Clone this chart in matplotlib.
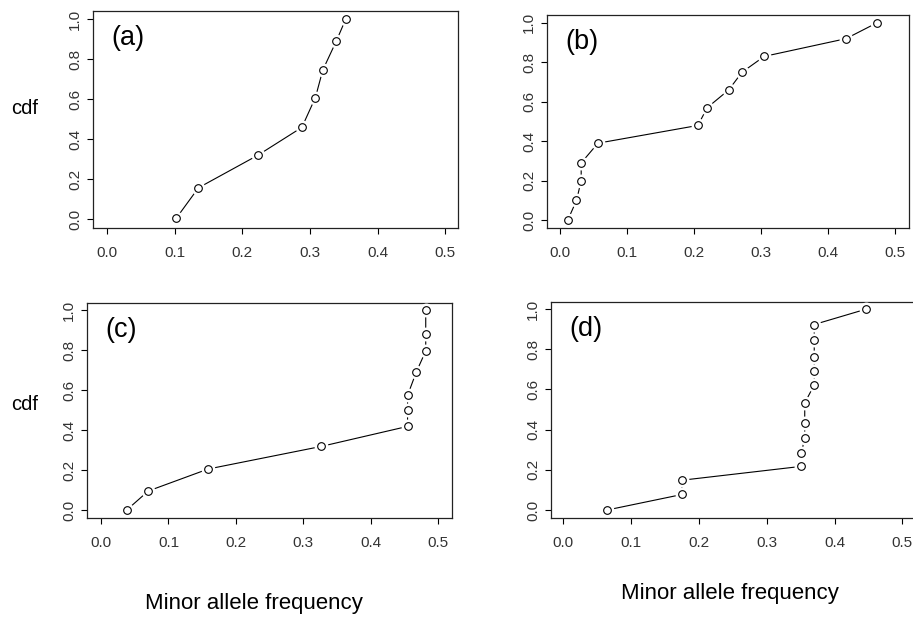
import numpy as np
import matplotlib
matplotlib.use('Agg')
import matplotlib.pyplot as plt

plt.rcParams['font.family'] = ['Liberation Sans', 'DejaVu Sans']

# panel data: minor allele frequency vs cdf
maf_a = [0.102, 0.135, 0.223, 0.288, 0.308, 0.319, 0.339, 0.353]
cdf_a = [0.003, 0.156, 0.319, 0.458, 0.607, 0.745, 0.890, 1.0]

maf_b = [0.012, 0.025, 0.032, 0.032, 0.057, 0.206, 0.220, 0.252, 0.272, 0.305, 0.427, 0.473]
cdf_b = [0.0, 0.10, 0.20, 0.29, 0.39, 0.48, 0.57, 0.66, 0.75, 0.83, 0.92, 1.0]

maf_c = [0.038, 0.070, 0.159, 0.327, 0.455, 0.455, 0.455, 0.468, 0.482, 0.482, 0.482]
cdf_c = [0.0, 0.095, 0.205, 0.318, 0.418, 0.498, 0.573, 0.690, 0.795, 0.882, 1.0]

maf_d = [0.065, 0.175, 0.175, 0.351, 0.351, 0.356, 0.356, 0.356, 0.370, 0.370, 0.370, 0.370, 0.370, 0.447]
cdf_d = [0.0, 0.077, 0.148, 0.217, 0.283, 0.358, 0.432, 0.533, 0.622, 0.692, 0.760, 0.845, 0.923, 1.0]

labels = ['(a)', '(b)', '(c)', '(d)']
xticks = [0.0, 0.1, 0.2, 0.3, 0.4, 0.5]
yticks = [0.0, 0.2, 0.4, 0.6, 0.8, 1.0]

W, H = 913, 618
fig = plt.figure(figsize=(W / 100, H / 100), dpi=100)

# axes boxes in pixels: left, top, right, bottom
boxes = [(93, 11, 458, 228), (547, 15, 909, 228), (87, 303, 452, 518), (551, 302, 916, 518)]
xlims = [(-0.021, 0.519), (-0.019, 0.521), (-0.021, 0.521), (-0.018, 0.52)]
ylims = [(-0.045, 1.04), (-0.04, 1.04), (-0.04, 1.035), (-0.04, 1.035)]
data = [(maf_a, cdf_a), (maf_b, cdf_b), (maf_c, cdf_c), (maf_d, cdf_d)]

for i in range(4):
    l, t, r, b = boxes[i]
    ax = fig.add_axes([l / W, 1 - b / H, (r - l) / W, (b - t) / H])
    x, y = data[i]
    ax.plot(x, y, color='black', lw=0.8, zorder=2)
    # white halo to mimic R type="b" gaps
    ax.plot(x, y, 'o', ms=9, mfc='white', mec='white', zorder=3)
    ax.plot(x, y, 'o', ms=5.5, mfc='white', mec='black', mew=0.8, zorder=4)
    ax.set_xlim(xlims[i])
    ax.set_ylim(ylims[i])
    ax.set_xticks(xticks)
    ax.set_xticklabels(['%.1f' % v for v in xticks])
    ax.set_yticks(yticks)
    ax.set_yticklabels(['%.1f' % v for v in yticks], rotation=90, va='center')
    ax.tick_params(axis='x', length=4, width=0.8, pad=9, labelsize=11, labelcolor='#333333')
    ax.tick_params(axis='y', length=4, width=0.8, pad=4, labelsize=11, labelcolor='#333333')
    for s in ax.spines.values():
        s.set_linewidth(0.9)
        s.set_color('#222222')
    # panel tag, top-left at ~(18px, 17px) inside the box
    ax.text(18 / (r - l), 1 - 14 / (b - t), labels[i], transform=ax.transAxes,
            fontsize=19.5, va='top', ha='left')

fig.text(25 / W, 1 - 108 / H, 'cdf', fontsize=14.5, ha='center', va='center')
fig.text(25 / W, 1 - 405 / H, 'cdf', fontsize=14.5, ha='center', va='center')
fig.text(254 / W, 1 - 603 / H, 'Minor allele frequency', fontsize=16, ha='center', va='center')
fig.text(730 / W, 1 - 593 / H, 'Minor allele frequency', fontsize=16, ha='center', va='center')

fig.savefig('out.png', dpi=100)
